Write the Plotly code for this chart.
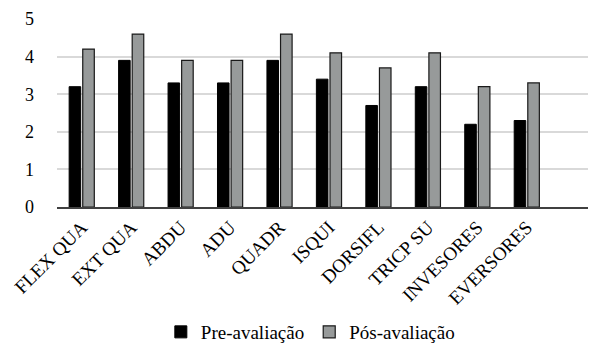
import plotly.graph_objects as go

categories = ["FLEX QUA", "EXT QUA", "ABDU", "ADU", "QUADR", "ISQUI",
              "DORSIFL", "TRICP SU", "INVESORES", "EVERSORES"]
pre = [3.2, 3.9, 3.3, 3.3, 3.9, 3.4, 2.7, 3.2, 2.2, 2.3]
pos = [4.2, 4.6, 3.9, 3.9, 4.6, 4.1, 3.7, 4.1, 3.2, 3.3]
y_ticks = [0, 1, 2, 3, 4, 5]

FONT = "Liberation Serif, serif"

fig = go.Figure()
fig.add_trace(go.Bar(x=categories, y=pre, name="Pre-avaliação",
                     marker=dict(color="#000000", line=dict(color="#000000", width=1))))
fig.add_trace(go.Bar(x=categories, y=pos, name="Pós-avaliação",
                     marker=dict(color="#979a9a", line=dict(color="#1a1a1a", width=1.2))))

# page body has an 8px margin, so the figure is sized to fit 596x346 window
fig.update_layout(
    width=588, height=338,
    margin=dict(l=49, r=0, t=11, b=139, autoexpand=False),
    paper_bgcolor="white", plot_bgcolor="white",
    barmode="group", bargap=0.45, bargroupgap=0.15,
    font=dict(family=FONT, size=17, color="#000000"),
    showlegend=True,
    legend=dict(orientation="h", x=0.47, xanchor="center", y=-0.665, yanchor="middle",
                font=dict(family=FONT, size=19, color="#000000"), itemwidth=30,
                traceorder="normal"),
)
fig.update_xaxes(
    type="category", range=[-0.5, 10.4], tickangle=-45, automargin=False,
    showline=True, linecolor="#404040", linewidth=1.5,
    showgrid=False, ticks="", tickfont=dict(family=FONT, size=19, color="#000000"),
)
fig.update_yaxes(
    range=[0, 5], tickvals=y_ticks, showgrid=True, gridcolor="#d9d9d9", gridwidth=1.5,
    zeroline=False, showline=False, ticks="", ticklabelstandoff=22, automargin=False,
    tickfont=dict(family=FONT, size=18, color="#000000"),
)

fig.write_html("out.html")
